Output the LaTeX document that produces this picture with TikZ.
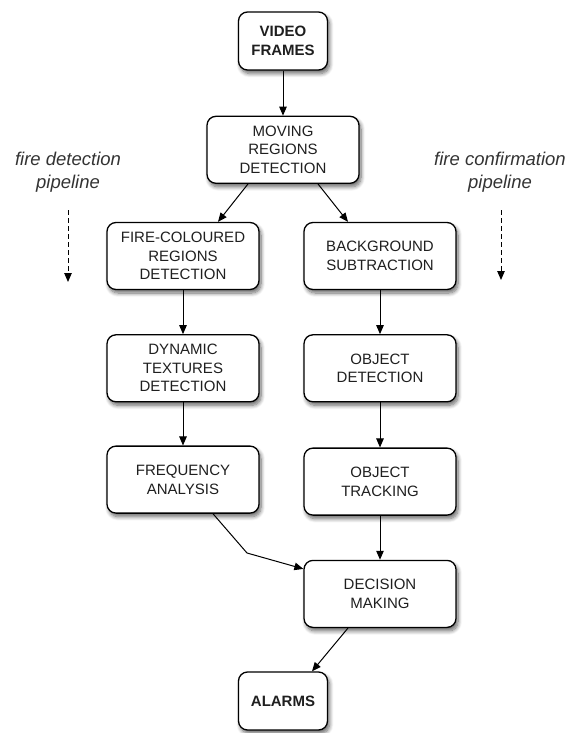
\documentclass[tikz,border=0pt]{standalone}
\usepackage{fontspec}
\setmainfont{Liberation Sans}
\usepackage{tikz}
\usetikzlibrary{arrows.meta, positioning, shadows.blur}
\tikzset{
  box/.style    ={draw, line width=1.3pt, rounded corners=9pt, align=center, fill=white,
                  minimum height=67pt, minimum width=152pt, text=black!88,
                  font=\fontsize{15}{18.5}\selectfont,
                  blur shadow={shadow xshift=2pt, shadow yshift=-3.5pt, shadow blur radius=4pt,
                               shadow blur steps=8, shadow opacity=60}},
  endbox/.style ={box, minimum height=58pt, minimum width=89pt,
                  font=\fontsize{15}{18.5}\selectfont\bfseries},
  side/.style   ={align=center, text=black!80, font=\fontsize{18.5}{23}\selectfont\itshape},
  arr/.style    ={-{Triangle[length=9pt, width=7.5pt]}, line width=1pt},
  pipe/.style   ={-{Triangle[length=9pt, width=7.5pt]}, line width=1pt, dash pattern=on 5pt off 3pt},
}

\begin{document}
\begin{tikzpicture}
  \useasboundingbox (0,0) rectangle (571pt,-733pt);

  \node[endbox]                     (vf)  at (283pt,-41pt)  {VIDEO\\FRAMES};
  \node[box, below=45pt of vf]      (mrd)                   {MOVING\\REGIONS\\DETECTION};
  \node[box]                        (fcr) at (183pt,-256pt) {FIRE-COLOURED\\REGIONS\\DETECTION};
  \node[box]                        (bs)  at (380pt,-256pt) {BACKGROUND\\SUBTRACTION};
  \node[box, below=44pt of fcr]     (dtd)                   {DYNAMIC\\TEXTURES\\DETECTION};
  \node[box, below=44pt of bs]      (od)                    {OBJECT\\DETECTION};
  \node[box, below=43pt of dtd]     (fa)                    {FREQUENCY\\ANALYSIS};
  \node[box, below=45pt of od]      (ot)                    {OBJECT\\TRACKING};
  \node[box, below=44pt of ot]      (dm)                    {DECISION\\MAKING};
  \node[endbox]                     (al)  at (283pt,-701pt) {ALARMS};

  % pipeline labels
  \node[side] (fdp) at (68pt,-172pt)  {fire detection\\pipeline};
  \node[side] (fcp) at (500pt,-172pt) {fire confirmation\\pipeline};
  \coordinate (fdptop) at (68pt,-210pt);
  \coordinate (fdpend) at (68pt,-282pt);
  \coordinate (fcptop) at (501pt,-210pt);
  \coordinate (fcpend) at (501pt,-280pt);
  \draw[pipe] (fdptop) -- (fdpend);
  \draw[pipe] (fcptop) -- (fcpend);

  \coordinate (kink) at (247pt,-553pt);

  \draw[arr] (vf) -- (mrd);
  \draw[arr] ([xshift=-35pt]mrd.south) -- ([xshift=35pt]fcr.north);
  \draw[arr] ([xshift=35pt]mrd.south)  -- ([xshift=-32pt]bs.north);
  \draw[arr] (fcr) -- (dtd);
  \draw[arr] (dtd) -- (fa);
  \draw[arr] (bs)  -- (od);
  \draw[arr] (od)  -- (ot);
  \draw[arr] (ot)  -- (dm);
  \draw[arr] ([xshift=30pt]fa.south) -- (kink) -- ([yshift=25pt]dm.west);
  \draw[arr] ([xshift=-32pt]dm.south) -- ([xshift=29pt]al.north);
\end{tikzpicture}
\end{document}
